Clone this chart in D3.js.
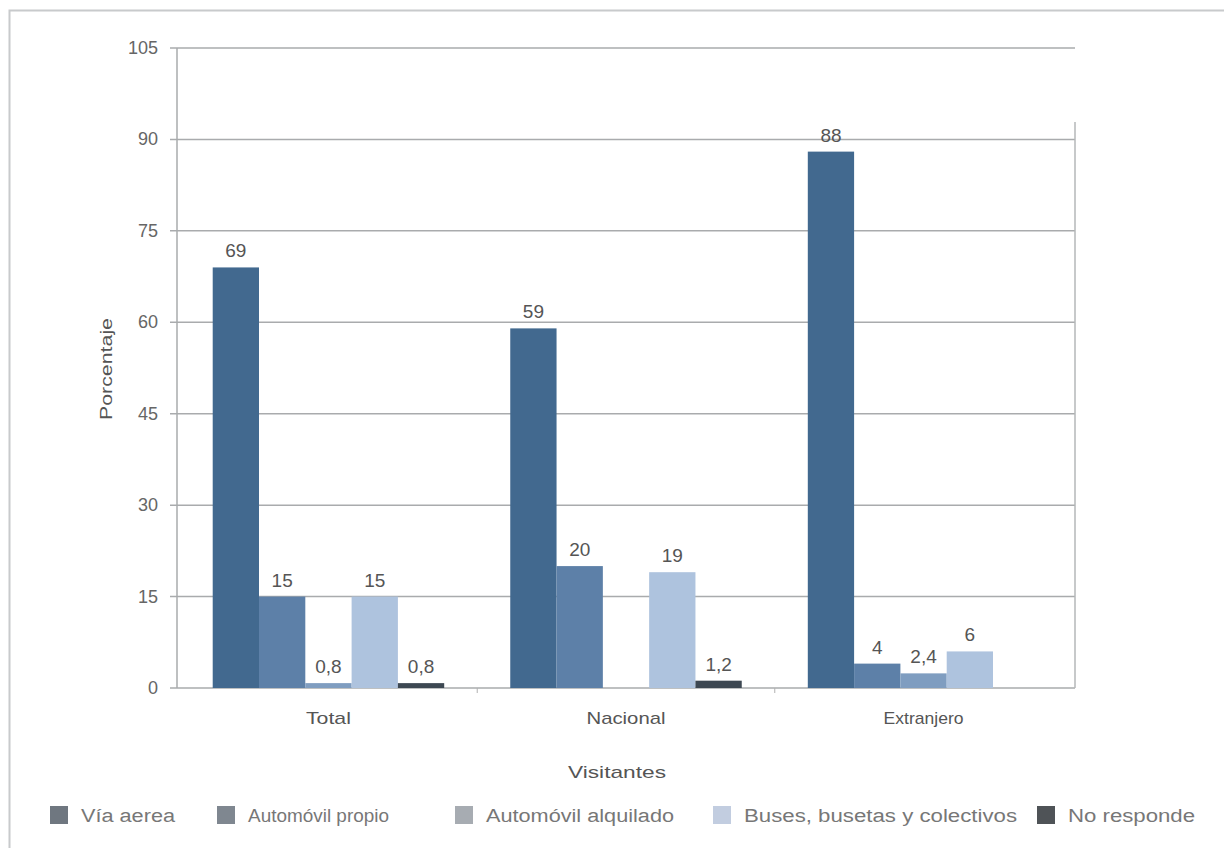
<!DOCTYPE html>
<html><head><meta charset="utf-8">
<script src="https://cdn.jsdelivr.net/npm/d3@7"></script>
<style>body{margin:0;background:#fff}svg{display:block}text{font-family:"Liberation Sans",Arial,sans-serif}</style>
</head><body><svg id="c" width="1224" height="848"></svg>
<script>
const categories = ["Total", "Nacional", "Extranjero"];
const seriesNames = ["Vía aerea", "Automóvil propio", "Automóvil alquilado", "Buses, busetas y colectivos", "No responde"];
const viaAerea = [69, 59, 88];
const autoPropio = [15, 20, 4];
const autoAlquilado = [0.8, null, 2.4];
const buses = [15, 19, 6];
const noResponde = [0.8, 1.2, null];
const yTicks = [0, 15, 30, 45, 60, 75, 90, 105];
const colors = ["#42698f", "#5d80a8", "#7f9dc0", "#aec3de", "#3d4852"];
const legendColors = ["#6f7780", "#7f8790", "#a7acb2", "#c2cde0", "#4f5357"];

const series = [viaAerea, autoPropio, autoAlquilado, buses, noResponde];
const svg = d3.select("#c");
const m = {l: 177, r: 1075, t: 48, b: 688};

// frame
svg.append("rect").attr("x", 9.5).attr("y", 10.5).attr("width", 1230).attr("height", 860)
  .attr("fill", "none").attr("stroke", "#c8cacc").attr("stroke-width", 2);

const y = d3.scaleLinear().domain([0, 105]).range([m.b, m.t]);
const x0 = d3.scaleBand().domain(categories).range([m.l, m.r]).paddingInner(0.222).paddingOuter(0.12);
const x1 = d3.scaleBand().domain(d3.range(5)).range([0, x0.bandwidth()]);

// gridlines
svg.append("g").selectAll("line").data(yTicks).join("line")
  .attr("x1", m.l - 7).attr("x2", m.r).attr("y1", d => y(d)).attr("y2", d => y(d))
  .attr("stroke", "#a9abad").attr("stroke-width", 1.5);
// right edge
svg.append("line").attr("x1", m.r).attr("x2", m.r).attr("y1", 122).attr("y2", m.b)
  .attr("stroke", "#b5b7b9").attr("stroke-width", 1.5);
// y axis line
svg.append("line").attr("x1", m.l).attr("x2", m.l).attr("y1", m.t).attr("y2", m.b)
  .attr("stroke", "#a9abad").attr("stroke-width", 1.5);

// y tick labels
svg.append("g").selectAll("text").data(yTicks).join("text")
  .attr("x", 158).attr("y", d => y(d) + 6).attr("text-anchor", "end")
  .attr("font-size", 18).attr("fill", "#666").text(d => d);

// x separators
const seps = [categories[1], categories[2]].map(c => x0(c) - x0.step() * x0.paddingInner() / 2);
svg.append("g").selectAll("line").data(seps).join("line")
  .attr("x1", d => d).attr("x2", d => d).attr("y1", m.b).attr("y2", m.b + 5)
  .attr("stroke", "#b0b0b0");

// bars
const data = [];
categories.forEach((c, i) => series.forEach((s, j) => { if (s[i] != null) data.push({c, j, v: s[i]}); }));
svg.append("g").selectAll("rect").data(data).join("rect")
  .attr("x", d => x0(d.c) + x1(d.j)).attr("width", x1.bandwidth())
  .attr("y", d => y(d.v)).attr("height", d => y(0) - y(d.v))
  .attr("fill", d => colors[d.j]);

// value labels
const fmt = v => String(v).replace(".", ",");
svg.append("g").selectAll("text").data(data).join("text")
  .attr("x", d => x0(d.c) + x1(d.j) + x1.bandwidth() / 2).attr("y", d => y(d.v) - 10)
  .attr("text-anchor", "middle").attr("font-size", 19).attr("fill", "#555").text(d => fmt(d.v));

// category labels
const catLen = [45, 79, 80];
svg.append("g").selectAll("text").data(categories).join("text")
  .attr("x", d => x0(d) + x0.bandwidth() / 2).attr("y", 724).attr("text-anchor", "middle")
  .attr("font-size", 17).attr("fill", "#555")
  .attr("textLength", (d, i) => catLen[i]).attr("lengthAdjust", "spacingAndGlyphs").text(d => d);

// axis titles
svg.append("text").attr("x", 617).attr("y", 778).attr("text-anchor", "middle")
  .attr("font-size", 17).attr("fill", "#555").attr("textLength", 98).attr("lengthAdjust", "spacingAndGlyphs").text("Visitantes");
svg.append("text").attr("transform", "translate(112,369) rotate(-90)").attr("text-anchor", "middle")
  .attr("font-size", 17).attr("fill", "#555").attr("textLength", 102).attr("lengthAdjust", "spacingAndGlyphs").text("Porcentaje");

// legend
const legX = [50, 217, 455, 713, 1037];
const lg = svg.append("g").selectAll("g").data(seriesNames).join("g")
  .attr("transform", (d, i) => `translate(${legX[i]},806)`);
lg.append("rect").attr("width", 18).attr("height", 18).attr("fill", (d, i) => legendColors[i]);
lg.append("text").attr("x", 31).attr("y", 16).attr("font-size", 18).attr("fill", "#777")
  .attr("textLength", (d,i)=>[94,141,188,273,127][i]).attr("lengthAdjust","spacingAndGlyphs").text(d => d);
</script></body></html>
